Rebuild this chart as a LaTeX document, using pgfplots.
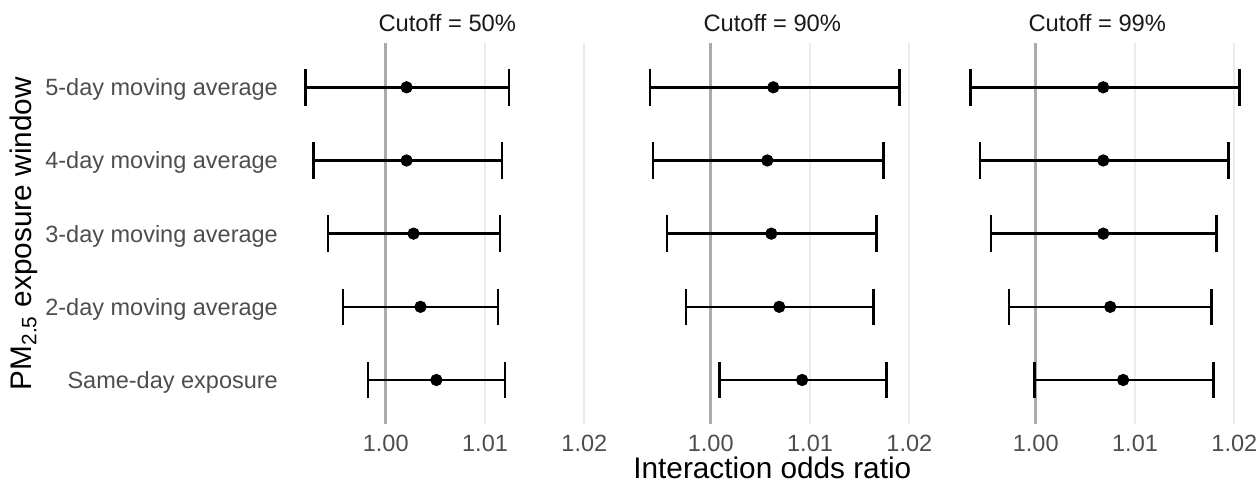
\documentclass[border=0pt]{standalone}
\usepackage{fontspec}
\setmainfont{Liberation Sans}
\usepackage{pgfplots}
\pgfplotsset{compat=1.18}
\usepackage{pgfplotstable}

\definecolor{gridgray}{HTML}{EBEBEB}
\definecolor{refgray}{HTML}{ABABAB}
\definecolor{ticktext}{HTML}{4D4D4D}
\definecolor{striptext}{HTML}{1A1A1A}

% y: 1 = same-day, 2..5 = k-day moving average
\pgfplotstableread{
y lo est hi
5 0.9919 1.0021 1.0124
4 0.9927 1.0021 1.0117
3 0.9942 1.0028 1.0115
2 0.9957 1.0035 1.0113
1 0.9982 1.0051 1.0120
}\cutfifty

\pgfplotstableread{
y lo est hi
5 0.9939 1.0063 1.0190
4 0.9942 1.0057 1.0174
3 0.9956 1.0061 1.0167
2 0.9975 1.0069 1.0164
1 1.0009 1.0092 1.0177
}\cutninety

\pgfplotstableread{
y lo est hi
5 0.9934 1.0068 1.0205
4 0.9944 1.0068 1.0194
3 0.9955 1.0068 1.0182
2 0.9973 1.0075 1.0177
1 0.9999 1.0088 1.0179
}\cutninetynine

\pgfplotsset{
  facet/.style={
    width=124.96pt, height=152.2pt, scale only axis,
    anchor=south west,
    xmin=0.99047, xmax=1.02193, ymin=0.4, ymax=5.6,
    xtick={1,1.01,1.02}, xticklabels={1.00,1.01,1.02},
    ytick={1,2,3,4,5},
    /pgf/number format/assume math mode=true,
    axis line style={draw=none},
    major tick length=0pt, tick style={draw=none},
    xmajorgrids, ymajorgrids=false,
    grid style={color=gridgray, line width=0.8pt},
    xticklabel style={anchor=base, yshift=-10.84pt, inner sep=0pt,
      font=\fontsize{9.4}{11}\selectfont, text=ticktext},
    yticklabel style={anchor=base east, inner sep=0pt, xshift=-5.1pt,
      yshift=-3.4pt, font=\fontsize{9.4}{11}\selectfont, text=ticktext},
    every axis title shift=0pt,
    title style={at={(axis description cs:0.5,1)}, anchor=base, yshift=4.68pt,
      inner sep=0pt, font=\fontsize{9.5}{11}\selectfont, text=striptext},
    clip=false,
  },
  ci/.style={black, only marks, mark=*, mark size=2.25pt,
    error bars/.cd, x dir=both, x explicit,
    error mark=|,
    error bar style={line width=1.05pt, black},
    error mark options={line width=1.05pt, mark size=7.3pt, black}},
}

\newcommand{\ciplot}[1]{%
  \addplot[refgray, line width=1.07pt] coordinates {(1,0.4) (1,5.6)};
  \addplot[ci] table[x=est, y=y,
    x error plus expr=\thisrow{hi}-\thisrow{est},
    x error minus expr=\thisrow{est}-\thisrow{lo}] {#1};
}

\begin{document}
\begin{tikzpicture}
\path[use as bounding box] (0,0) rectangle (502.8pt,192.8pt);

\begin{axis}[facet, at={(116.44pt,23.24pt)},
  title={Cutoff = 50\%},
  yticklabels={Same-day exposure, 2-day moving average, 3-day moving average,
    4-day moving average, 5-day moving average},
  ylabel={PM\textsubscript{2.5} exposure window},
  ylabel style={at={(axis description cs:-0.8294,0.5)}, anchor=base,
    inner sep=0pt, font=\fontsize{11.9}{14}\selectfont, text=black},
]
\ciplot{\cutfifty}
\end{axis}

\begin{axis}[facet, at={(246.44pt,23.24pt)},
  title={Cutoff = 90\%},
  yticklabels={},
  xlabel={Interaction odds ratio},
  xlabel style={at={(axis description cs:0.5,0)}, anchor=base, yshift=-21.64pt,
    inner sep=0pt, font=\fontsize{11.9}{14}\selectfont, text=black},
]
\ciplot{\cutninety}
\end{axis}

\begin{axis}[facet, at={(376.44pt,23.24pt)},
  title={Cutoff = 99\%},
  yticklabels={},
]
\ciplot{\cutninetynine}
\end{axis}
\end{tikzpicture}
\end{document}
